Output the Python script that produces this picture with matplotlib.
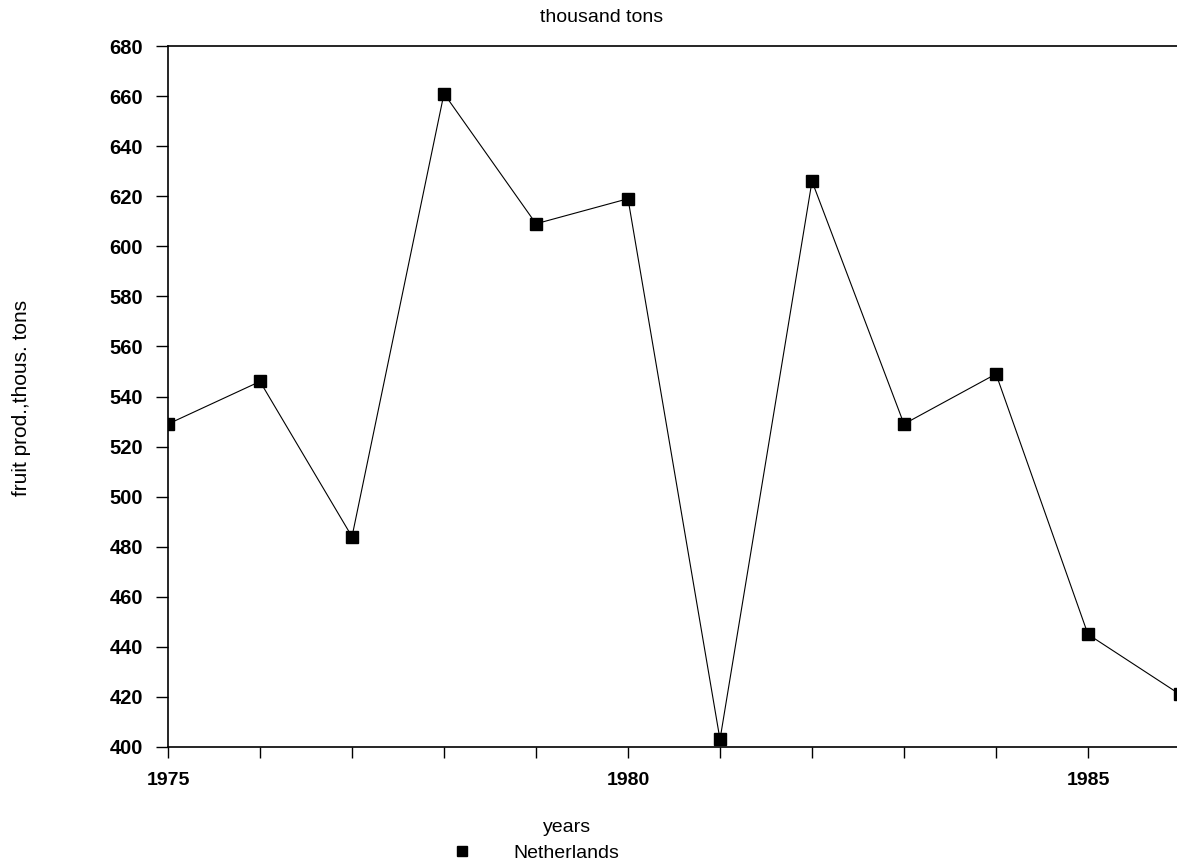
import numpy as np
import matplotlib.pyplot as plt
from matplotlib.ticker import MultipleLocator

plt.rcParams.update({'font.family': ['Liberation Sans', 'DejaVu Sans']})

years = [1975, 1976, 1977, 1978, 1979, 1980, 1981, 1982, 1983, 1984, 1985, 1986]
netherlands = [529, 546, 484, 661, 609, 619, 403, 626, 529, 549, 445, 421]

fig = plt.figure(figsize=(11.77, 8.67), dpi=100)
ax = fig.add_axes([168 / 1177, 1 - 747 / 867, 1 - 168 / 1177, (747 - 46) / 867])

ax.plot(years, netherlands, '-', color='k', lw=0.8, marker='s', ms=8.6,
        mfc='k', mec='k', label='Netherlands')

ax.set_xlim(1975, 1975 + 1009 / 92)
ax.set_ylim(400, 680)
ax.yaxis.set_major_locator(MultipleLocator(20))
ax.xaxis.set_major_locator(MultipleLocator(5))
ax.xaxis.set_minor_locator(MultipleLocator(1))
ax.tick_params(axis='y', which='both', direction='out', length=9,
               width=1, color='k', labelsize=14.5, pad=9)
ax.tick_params(axis='x', which='both', direction='out', length=8,
               width=1, color='k', labelsize=14, pad=10)
for lab in ax.get_xticklabels() + ax.get_yticklabels():
    lab.set_fontweight('bold')
ax.spines['right'].set_visible(False)
for s in ['left', 'bottom', 'top']:
    ax.spines[s].set_linewidth(1.2)

# texts placed like the scanned original
fig.text(602 / 1177, 1 - 18 / 867, 'thousand tons', ha='center', va='center',
         fontsize=14)
fig.text(22 / 1177, 1 - 398 / 867, 'fruit prod.,thous. tons', rotation=90,
         ha='center', va='center', fontsize=15)
fig.text(567 / 1177, 1 - 827 / 867, 'years', ha='center', va='center',
         fontsize=14)
handles, labels = ax.get_legend_handles_labels()
handles[0] = plt.Line2D([], [], ls='none', marker='s', ms=7.5, color='k')
fig.legend(handles, labels, loc='center left', frameon=False,
           bbox_to_anchor=(438 / 1177, 1 - 853 / 867), fontsize=14,
           handlelength=1.5, handletextpad=1.9, borderpad=0)

fig.savefig('out.png', dpi=100)
